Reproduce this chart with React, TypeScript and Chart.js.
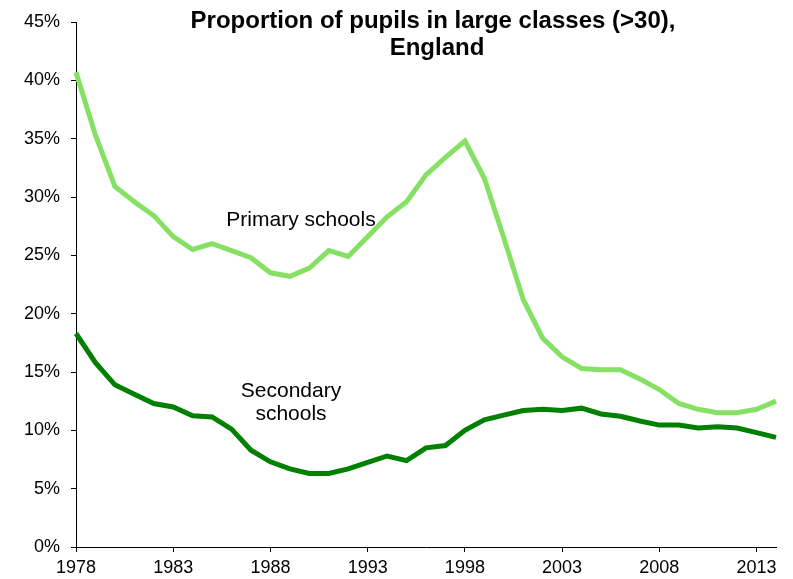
import React, { useEffect, useRef } from "react";
import { Chart, registerables } from "chart.js";

Chart.register(...registerables);

const years: string[] = [
  "1978", "1979", "1980", "1981", "1982", "1983", "1984", "1985", "1986", "1987",
  "1988", "1989", "1990", "1991", "1992", "1993", "1994", "1995", "1996", "1997",
  "1998", "1999", "2000", "2001", "2002", "2003", "2004", "2005", "2006", "2007",
  "2008", "2009", "2010", "2011", "2012", "2013", "2014",
];

const primary: number[] = [
  40.7, 35.3, 30.9, 29.6, 28.4, 26.6, 25.5, 26.0, 25.4, 24.8,
  23.5, 23.2, 23.9, 25.4, 24.9, 26.6, 28.3, 29.6, 31.9, 33.4,
  34.8, 31.6, 26.5, 21.2, 17.9, 16.3, 15.3, 15.2, 15.2, 14.4,
  13.5, 12.3, 11.8, 11.5, 11.5, 11.8, 12.5,
];

const secondary: number[] = [
  18.3, 15.8, 13.9, 13.1, 12.3, 12.0, 11.25, 11.15, 10.1, 8.3,
  7.3, 6.7, 6.3, 6.3, 6.7, 7.25, 7.8, 7.4, 8.5, 8.7,
  10.0, 10.9, 11.3, 11.7, 11.8, 11.7, 11.9, 11.4, 11.2, 10.8,
  10.45, 10.45, 10.2, 10.3, 10.2, 9.8, 9.4,
];

const titleLines: string[] = ["Proportion of pupils in large classes (>30),", "England"];
const primaryLabel: string[] = ["Primary schools"];
const secondaryLabel: string[] = ["Secondary", "schools"];

const FONT = "'Liberation Sans', Arial, sans-serif";

const textPlugin = {
  id: "textPlugin",
  afterDraw(chart: any) {
    const ctx = chart.ctx;
    ctx.save();
    ctx.fillStyle = "#000";
    ctx.textAlign = "center";
    ctx.textBaseline = "alphabetic";
    ctx.font = `bold 24px ${FONT}`;
    ctx.fillText(titleLines[0], 433, 28);
    ctx.fillText(titleLines[1], 437, 55);
    ctx.font = `21px ${FONT}`;
    ctx.fillText(primaryLabel[0], 301, 226);
    ctx.fillText(secondaryLabel[0], 291, 397);
    ctx.fillText(secondaryLabel[1], 291, 420);
    ctx.restore();
  },
};

export default function App() {
  const ref = useRef<HTMLCanvasElement | null>(null);
  useEffect(() => {
    document.body.style.margin = "0";
    const canvas = ref.current;
    if (!canvas) return;
    const chart = new Chart(canvas, {
      type: "line",
      data: {
        labels: years,
        datasets: [
          {
            label: "Primary schools",
            data: primary,
            borderColor: "#86E063",
            borderWidth: 5,
            pointRadius: 0,
            tension: 0,
            fill: false,
          },
          {
            label: "Secondary schools",
            data: secondary,
            borderColor: "#008000",
            borderWidth: 5,
            pointRadius: 0,
            tension: 0,
            fill: false,
          },
        ],
      },
      options: {
        animation: false,
        responsive: false,
        maintainAspectRatio: false,
        layout: { padding: { top: 22, right: 17, left: 0, bottom: 0 } },
        plugins: {
          legend: { display: false },
          title: { display: false },
          tooltip: { enabled: false },
        },
        scales: {
          x: {
            type: "category",
            offset: false,
            border: { display: true, color: "#000", width: 1 },
            grid: {
              display: true,
              drawOnChartArea: false,
              drawTicks: true,
              tickLength: 5,
              color: (c: any) => (c.index % 5 === 0 ? "#000" : "rgba(0,0,0,0)"),
            },
            ticks: {
              autoSkip: false,
              maxRotation: 0,
              color: "#000",
              padding: 5,
              font: { family: FONT, size: 18 },
              callback: (_v: any, i: number) => (i % 5 === 0 ? years[i] : ""),
            },
            afterFit: (s: any) => {
              s.height = 32;
            },
          },
          y: {
            min: 0,
            max: 45,
            border: { display: true, color: "#000", width: 1 },
            grid: {
              display: true,
              drawOnChartArea: false,
              drawTicks: true,
              tickLength: 5,
              color: "#000",
            },
            ticks: {
              stepSize: 5,
              color: "#000",
              padding: 11,
              font: { family: FONT, size: 18 },
              callback: (v: any) => `${v}%`,
            },
            afterFit: (s: any) => {
              s.width = 76;
            },
          },
        },
      },
      plugins: [textPlugin],
    });
    return () => chart.destroy();
  }, []);
  return <canvas ref={ref} width={793} height={579} style={{ display: "block" }} />;
}
